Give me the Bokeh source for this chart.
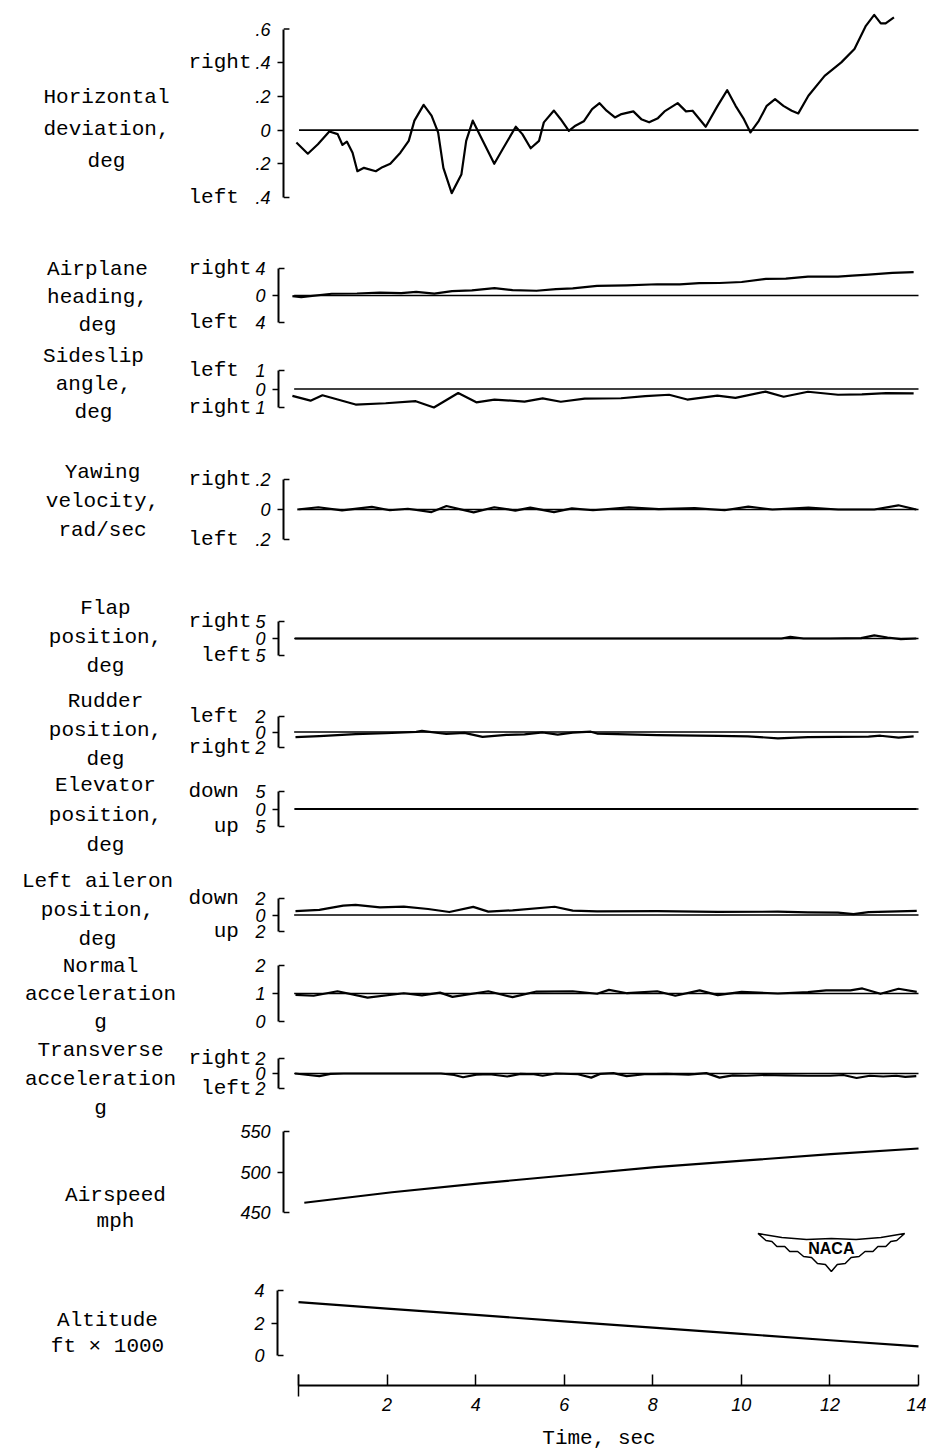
import numpy as np
from bokeh.plotting import figure
from bokeh.layouts import column, row
from bokeh.models import Range1d, FixedTicker, Label
from bokeh.embed import file_html
from bokeh.resources import INLINE

# ------------------------------------------------------------------ data
# Horizontal deviation, deg (right +)
hd_t = [-0.18, 0.08, 0.31, 0.57, 0.76, 0.87, 0.97, 1.1, 1.21, 1.36, 1.63, 1.78, 1.96, 2.19,
        2.38, 2.51, 2.72, 2.9, 3.05, 3.17, 3.36, 3.58, 3.69, 3.84, 4.03, 4.33, 4.52, 4.82,
        4.97, 5.16, 5.35, 5.46, 5.69, 5.84, 6.03, 6.18, 6.37, 6.56, 6.73, 6.89, 7.08, 7.23,
        7.5, 7.68, 7.86, 8.06, 8.21, 8.51, 8.7, 8.85, 9.15, 9.42, 9.64, 9.83, 10.02, 10.17,
        10.36, 10.54, 10.73, 10.92, 11.11, 11.26, 11.49, 11.86, 12.24, 12.54, 12.8, 12.99,
        13.14, 13.25, 13.44]
hd_v = [-0.074, -0.14, -0.084, -0.008, -0.024, -0.088, -0.068, -0.134, -0.244, -0.224,
        -0.244, -0.22, -0.2, -0.134, -0.064, 0.056, 0.15, 0.086, -0.014, -0.224, -0.374,
        -0.264, -0.064, 0.056, -0.044, -0.2, -0.114, 0.02, -0.024, -0.108, -0.064, 0.046,
        0.116, 0.066, -0.004, 0.026, 0.052, 0.125, 0.16, 0.115, 0.075, 0.095, 0.111, 0.065,
        0.046, 0.071, 0.111, 0.16, 0.111, 0.115, 0.02, 0.144, 0.237, 0.144, 0.065, -0.014,
        0.055, 0.144, 0.184, 0.144, 0.115, 0.099, 0.204, 0.322, 0.402, 0.481, 0.619, 0.684,
        0.633, 0.633, 0.669]

# Airplane heading, deg (right +)
hdg_t = [-0.16, 0.04, 0.73, 1.3, 1.82, 2.3, 2.64, 3.05, 3.45, 3.9, 4.41, 4.82, 5.36, 5.8,
         6.18, 6.73, 7.4, 8.09, 8.6, 9.04, 9.5, 10.0, 10.55, 11.0, 11.5, 12.18, 12.5, 12.87,
         13.41, 13.89]
hdg_v = [-0.1, -0.25, 0.26, 0.3, 0.42, 0.36, 0.54, 0.28, 0.66, 0.75, 1.1, 0.8, 0.7, 0.95,
         1.06, 1.42, 1.5, 1.67, 1.65, 1.83, 1.85, 2.0, 2.46, 2.5, 2.8, 2.8, 2.95, 3.1, 3.35,
         3.45]

# Sideslip angle, deg (left +)
ss_t = [-0.16, 0.25, 0.52, 1.27, 1.95, 2.63, 3.04, 3.59, 4.0, 4.41, 5.09, 5.5, 5.91, 6.45,
        7.27, 7.82, 8.36, 8.77, 9.45, 9.86, 10.54, 10.95, 11.5, 12.18, 12.72, 13.27, 13.89]
ss_v = [-0.37, -0.63, -0.34, -0.84, -0.77, -0.66, -1.0, -0.22, -0.72, -0.57, -0.68, -0.51,
        -0.69, -0.52, -0.5, -0.38, -0.31, -0.57, -0.36, -0.48, -0.14, -0.42, -0.15, -0.31,
        -0.29, -0.22, -0.24]

# Yawing velocity, rad/sec (right +)
yaw_t = [-0.16, 0.32, 0.86, 1.54, 1.95, 2.36, 2.9, 3.24, 3.86, 4.33, 4.81, 5.15, 5.69, 6.1,
         6.58, 7.4, 8.08, 8.9, 9.58, 10.12, 10.67, 11.49, 12.17, 12.99, 13.54, 13.95]
yaw_v = [0.0, 0.015, -0.006, 0.017, -0.005, 0.005, -0.017, 0.023, -0.019, 0.015, -0.007,
         0.013, -0.017, 0.007, -0.005, 0.014, 0.003, 0.009, -0.005, 0.019, 0.0, 0.012, 0.0,
         0.0, 0.028, 0.0]

# Flap position, deg (right +)
flap_t = [-0.1, 2.0, 4.0, 6.0, 8.0, 10.0, 10.9, 11.1, 11.4, 12.0, 12.7, 13.0, 13.3, 13.6, 13.95]
flap_v = [0.0, 0.0, 0.0, 0.0, 0.0, 0.0, 0.0, 0.5, 0.0, 0.0, 0.1, 0.9, 0.3, -0.2, 0.0]

# Rudder position, deg (left +)
rud_t = [-0.09, 0.45, 1.27, 1.95, 2.64, 2.77, 3.32, 3.73, 4.14, 4.68, 5.09, 5.5, 5.84, 6.18,
         6.59, 6.73, 8.09, 9.46, 10.14, 10.82, 11.5, 12.18, 12.87, 13.14, 13.55, 13.89]
rud_v = [-0.67, -0.52, -0.27, -0.16, 0.02, 0.15, -0.26, -0.11, -0.62, -0.37, -0.31, -0.06,
         -0.34, -0.08, 0.04, -0.2, -0.4, -0.51, -0.56, -0.81, -0.67, -0.62, -0.6, -0.48,
         -0.72, -0.57]

# Elevator position, deg (down +)
elev_t = [-0.1, 2.0, 4.0, 6.0, 8.0, 10.0, 12.0, 13.95]
elev_v = [0.0, 0.0, 0.0, 0.0, 0.0, 0.0, 0.0, 0.0]

# Left aileron position, deg (down +)
ail_t = [-0.09, 0.45, 0.99, 1.27, 1.82, 2.36, 2.91, 3.39, 3.93, 4.27, 4.82, 5.77, 6.18, 6.73,
         8.09, 9.46, 10.82, 11.5, 12.18, 12.53, 12.87, 13.96]
ail_v = [0.46, 0.62, 1.13, 1.22, 0.93, 1.02, 0.73, 0.36, 0.98, 0.41, 0.57, 1.0, 0.53, 0.45,
         0.48, 0.37, 0.4, 0.31, 0.29, 0.11, 0.35, 0.49]

# Normal acceleration, g
nrm_t = [-0.09, 0.32, 0.86, 1.54, 2.36, 2.77, 3.18, 3.46, 4.27, 4.82, 5.36, 6.18, 6.73, 7.0,
         7.41, 8.09, 8.5, 9.05, 9.46, 10.0, 10.82, 11.5, 11.91, 12.46, 12.73, 13.14, 13.55,
         13.96]
nrm_v = [0.95, 0.92, 1.08, 0.85, 1.01, 0.93, 1.03, 0.88, 1.08, 0.87, 1.07, 1.08, 0.99, 1.13,
         1.01, 1.08, 0.92, 1.11, 0.94, 1.06, 1.0, 1.05, 1.11, 1.11, 1.18, 0.99, 1.17, 1.06]

# Transverse acceleration, g (right +)
trn_t = [-0.1, 0.2, 0.45, 0.7, 1.0, 3.2, 3.5, 3.7, 4.0, 4.3, 4.7, 5.0, 5.3, 5.5, 5.8, 6.3,
         6.6, 6.8, 7.1, 7.4, 7.8, 8.3, 8.8, 9.2, 9.5, 9.8, 10.1, 10.5, 11.0, 11.5, 12.0, 12.3,
         12.6, 12.9, 13.2, 13.5, 13.7, 13.95]
trn_v = [0.0, -0.2, -0.35, -0.05, 0.0, 0.0, -0.2, -0.5, -0.15, -0.1, -0.4, -0.05, -0.1, -0.3,
         0.0, -0.1, -0.55, -0.05, 0.05, -0.35, -0.1, -0.05, -0.15, 0.05, -0.55, -0.25, -0.3,
         -0.2, -0.25, -0.3, -0.3, -0.2, -0.6, -0.3, -0.4, -0.3, -0.45, -0.35]

# Airspeed, mph
spd_t = [0, 2, 4, 6, 8, 10, 12, 14]
spd_v = [462, 475, 486, 496, 506, 514, 522, 529]

# Altitude, ft x 1000
alt_t = [0, 2, 4, 6, 8, 10, 12, 14]
alt_v = [3.28, 2.88, 2.5, 2.1, 1.71, 1.33, 0.94, 0.56]

# zero reference line span (s)
base_t = [-0.12, 14.0]

# time axis
time_ticks = [0, 2, 4, 6, 8, 10, 12, 14]
time_labels = ["", "2", "4", "6", "8", "10", "12", "14"]

# ------------------------------------------------------------------ layout
AXIS_X = 277            # page x of the vertical scales
T0_X, T14_X = 298, 918  # page x of t = 0 and t = 14 s
PX_S = (T14_X - T0_X) / 14.0
FRAME_W = 643
RIGHT_B = 6
X_START = -(T0_X - AXIS_X) / PX_S
X_END = X_START + FRAME_W / PX_S
BOTTOM = 68
MONO = "Liberation Mono"
NUM = "Liberation Sans"

x_range = Range1d(X_START, X_END)

panels = [
    dict(t=hd_t, v=hd_v, ticks=[-0.4, -0.2, 0, 0.2, 0.4, 0.6],
         labels=[".4", ".2", "0", ".2", ".4", ".6"], words={0.4: "right", -0.4: "left "},
         text="Horizontal\ndeviation,\ndeg", lx=106, ly=129, lh=1.39,
         ty=28.5, by=197, f0=0, f1=238, base=0, bl=25),
    dict(t=hdg_t, v=hdg_v, ticks=[-4, 0, 4], labels=["4", "0", "4"],
         words={4: "right", -4: "left "},
         text="Airplane\nheading,\ndeg", lx=97, ly=297, lh=1.2,
         ty=268, by=322, f0=238, f1=343, base=0, bl=25),
    dict(t=ss_t, v=ss_v, ticks=[-1, 0, 1], labels=["1", "0", "1"],
         words={1: "left ", -1: "right"},
         text="Sideslip\nangle,\ndeg", lx=93, ly=384, lh=1.23,
         ty=370, by=407, f0=343, f1=442, base=0, bl=25),
    dict(t=yaw_t, v=yaw_v, ticks=[-0.2, 0, 0.2], labels=[".2", "0", ".2"],
         words={0.2: "right", -0.2: "left "},
         text="Yawing\nvelocity,\nrad/sec", lx=102, ly=501, lh=1.25,
         ty=479, by=539, f0=442, f1=588, base=0, bl=25),
    dict(t=flap_t, v=flap_v, ticks=[-5, 0, 5], labels=["5", "0", "5"],
         words={5: "right", -5: "left"},
         text="Flap\nposition,\ndeg", lx=105, ly=637, lh=1.25,
         ty=621, by=655, f0=588, f1=686, base=0, bl=25),
    dict(t=rud_t, v=rud_v, ticks=[-2, 0, 2], labels=["2", "0", "2"],
         words={2: "left ", -2: "right"},
         text="Rudder\nposition,\ndeg", lx=105, ly=730, lh=1.27,
         ty=716, by=747, f0=686, f1=775, base=0, bl=25),
    dict(t=elev_t, v=elev_v, ticks=[-5, 0, 5], labels=["5", "0", "5"],
         words={5: "down ", -5: "up "},
         text="Elevator\nposition,\ndeg", lx=105, ly=815, lh=1.3,
         ty=791, by=826, f0=775, f1=866, base=0, bl=25),
    dict(t=ail_t, v=ail_v, ticks=[-2, 0, 2], labels=["2", "0", "2"],
         words={2: "down ", -2: "up "},
         text="Left aileron\nposition,\ndeg", lx=97, ly=910, lh=1.28,
         ty=898, by=931, f0=866, f1=955, base=0, bl=25),
    dict(t=nrm_t, v=nrm_v, ticks=[0, 1, 2], labels=["0", "1", "2"], words={},
         text="Normal\nacceleration\ng", lx=100, ly=994, lh=1.2,
         ty=965, by=1021, f0=955, f1=1040, base=1, bl=25),
    dict(t=trn_t, v=trn_v, ticks=[-2, 0, 2], labels=["2", "0", "2"],
         words={2: "right", -2: "left"},
         text="Transverse\nacceleration\ng", lx=100, ly=1079, lh=1.25,
         ty=1058, by=1088, f0=1040, f1=1121, base=0, bl=25),
    dict(t=spd_t, v=spd_v, ticks=[450, 500, 550], labels=["450", "500", "550"], words={},
         text="Airspeed\nmph", lx=115, ly=1208, lh=1.17,
         ty=1131, by=1212, f0=1121, f1=1278, base=None, bl=40),
    dict(t=alt_t, v=alt_v, ticks=[0, 2, 4], labels=["0", "2", "4"], words={},
         text="Altitude\nft \u00d7 1000", lx=107, ly=1333, lh=1.17,
         ty=1290, by=1355, f0=1278, f1=1385, base=None, bl=40),
]

# NACA wing emblem outline (pixel offsets from its centre) and centre
LOGO = [(-74, -16), (-50, -12), (-25, -10), (0, -11), (25, -10), (50, -12), (74, -16),
        (66, -9), (60, -8), (55, -3), (47, -3), (42, 2), (34, 2), (28, 7), (20, 8), (14, 14),
        (6, 15), (0, 22), (-6, 15), (-14, 14), (-20, 8), (-28, 7), (-34, 2), (-42, 2),
        (-47, -3), (-55, -3), (-60, -8), (-66, -9)]
LOGO_C = (830, 1249)

rows = []
for i, P in enumerate(panels):
    last = i == len(panels) - 1
    vb, vt = P["ticks"][0], P["ticks"][-1]
    s = (vt - vb) / (P["by"] - P["ty"])          # data units per pixel
    yr = Range1d(vb - (P["f1"] - P["by"]) * s, vt + (P["ty"] - P["f0"]) * s)
    bb = BOTTOM if last else 0
    h = P["f1"] - P["f0"] + bb
    lw = AXIS_X - P["bl"]                        # width of the caption strip

    # ---- caption strip (panel title and direction words)
    c = figure(width=lw, height=h, x_range=Range1d(0, lw), y_range=yr,
               output_backend="svg", toolbar_location=None,
               x_axis_location=None, y_axis_location=None,
               min_border_left=0, min_border_right=0, min_border_top=0, min_border_bottom=bb)
    c.grid.visible = False
    c.outline_line_color = None
    for val, word in P["words"].items():
        c.add_layout(Label(x=lw - 1, y=val, text=word,
                           text_font=MONO, text_font_size="21px", text_align="right",
                           text_baseline="middle", text_color="black"))
    c.add_layout(Label(x=P["lx"], y=vt - (P["ly"] - P["ty"]) * s, text=P["text"],
                       text_font=MONO, text_font_size="21px", text_align="center",
                       text_baseline="middle", text_line_height=P["lh"],
                       text_color="black"))

    # ---- record strip
    p = figure(width=P["bl"] + FRAME_W + RIGHT_B, height=h, x_range=x_range, y_range=yr,
               output_backend="svg", toolbar_location=None,
               x_axis_location="below" if last else None,
               min_border_left=P["bl"], min_border_right=RIGHT_B,
               min_border_top=0, min_border_bottom=bb)
    p.grid.visible = False
    p.outline_line_color = None

    ax = p.yaxis[0]
    ax.ticker = FixedTicker(ticks=P["ticks"], minor_ticks=P["ticks"][1:-1])
    ax.bounds = (vb, vt)
    ax.major_label_overrides = {float(k): l for k, l in zip(P["ticks"], P["labels"])}
    ax.major_tick_in = 0
    ax.major_tick_out = 0
    ax.minor_tick_in = 0
    ax.minor_tick_out = 6
    ax.minor_tick_line_width = 1.5
    ax.axis_line_width = 2
    ax.major_label_standoff = 7
    ax.major_label_text_font = NUM
    ax.major_label_text_font_style = "italic"
    ax.major_label_text_font_size = "18px"
    ax.major_label_text_color = "black"

    # inward end marks of each bracket scale
    cap = 6 / PX_S
    p.segment(x0=[X_START, X_START], y0=[vb, vt], x1=[X_START + cap] * 2, y1=[vb, vt],
              line_color="black", line_width=1.5)

    if P["base"] is not None:
        p.line(base_t, [P["base"]] * 2, line_color="black", line_width=1.6)
    p.line(P["t"], P["v"], line_color="black", line_width=2.2, line_join="round")

    if i == 10:
        lx = [(LOGO_C[0] + dx - T0_X) / PX_S for dx, dy in LOGO]
        ly = [vt - (LOGO_C[1] + dy - P["ty"]) * s for dx, dy in LOGO]
        p.patch(lx, ly, fill_color="white", line_color="black", line_width=1.5)
        p.add_layout(Label(x=(LOGO_C[0] - T0_X) / PX_S, y=vt - (LOGO_C[1] - 1 - P["ty"]) * s,
                           text="NACA", text_font=NUM, text_font_style="bold",
                           text_font_size="16px", text_align="center",
                           text_baseline="middle", text_color="black"))

    if last:
        xa = p.xaxis[0]
        xa.ticker = FixedTicker(ticks=time_ticks, minor_ticks=[time_ticks[0]])
        xa.bounds = (time_ticks[0], time_ticks[-1])
        xa.major_label_overrides = {float(k): l for k, l in zip(time_ticks, time_labels)}
        xa.major_tick_in = 11
        xa.major_tick_out = 0
        xa.minor_tick_in = 11
        xa.minor_tick_out = 11
        xa.major_tick_line_width = 1.5
        xa.minor_tick_line_width = 1.5
        xa.axis_line_width = 2
        xa.major_label_standoff = 1
        xa.major_label_text_font = NUM
        xa.major_label_text_font_style = "italic"
        xa.major_label_text_font_size = "18px"
        xa.major_label_text_color = "black"
        xa.axis_label = "Time, sec"
        xa.axis_label_text_font = MONO
        xa.axis_label_text_font_style = "normal"
        xa.axis_label_text_font_size = "21px"
        xa.axis_label_text_color = "black"
        xa.axis_label_text_line_height = 0.75
        xa.axis_label_standoff = 13
    rows.append(row(c, p, spacing=0))

layout = column(*rows, spacing=0)
open("out.html", "w").write(file_html(layout, INLINE))
